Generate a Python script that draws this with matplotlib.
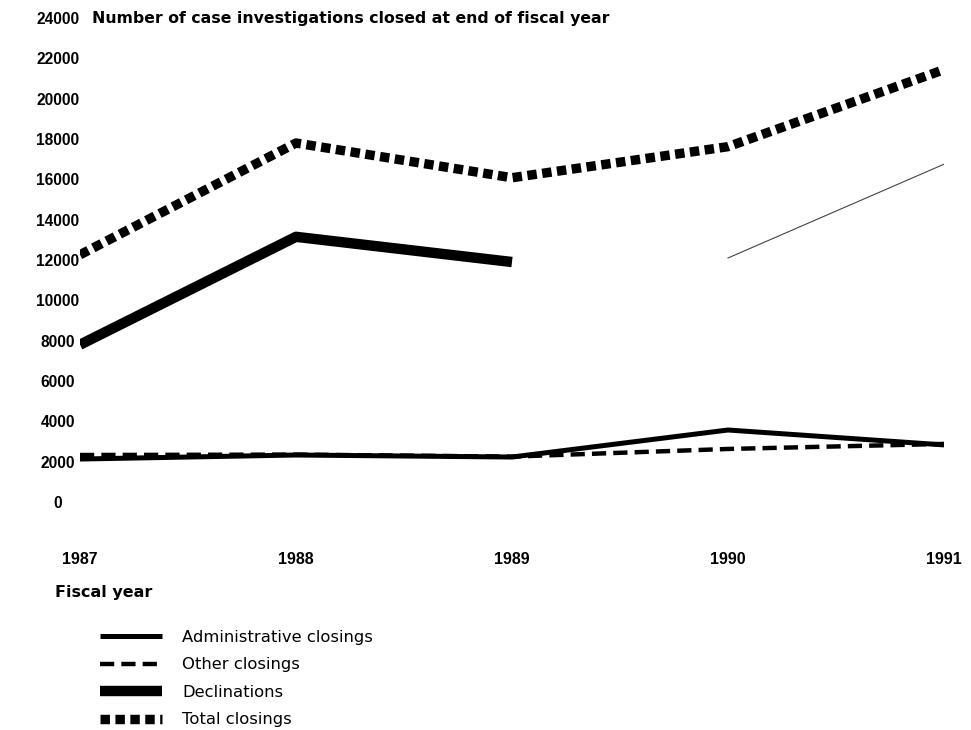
import matplotlib
matplotlib.use("Agg")
import matplotlib.pyplot as plt
from matplotlib.lines import Line2D

years = [1987, 1988, 1989, 1990, 1991]
administrative = [2130, 2330, 2230, 3570, 2830]
other = [2330, 2350, 2250, 2630, 2880]
declinations = [7800, 13150, 11900, 12100, 16750]
total = [12260, 17800, 16080, 17620, 21440]
yticks = list(range(0, 24001, 2000))
title = "Number of case investigations closed at end of fiscal year"
xlabel = "Fiscal year"
labels = ["Administrative closings", "Other closings", "Declinations", "Total closings"]

plt.rcParams['font.family'] = ['Liberation Sans', 'DejaVu Sans']
WIDE = ['DejaVu Sans']

W, H = 971, 730
fig = plt.figure(figsize=(W / 100, H / 100), dpi=100)
left_px, right_px, top_px, bot_px = 80, 944, 18, 502
ax = fig.add_axes([left_px / W, 1 - bot_px / H, (right_px - left_px) / W, (bot_px - top_px) / H])
ax.set_xlim(1987, 1991)
ax.set_ylim(0, 24000)
for s in ax.spines.values():
    s.set_visible(False)

ax.plot(years, administrative, color='black', lw=3.6, solid_capstyle='butt', zorder=3)
ax.plot(years, other, color='black', lw=3.2, dashes=(3.2, 1.6), zorder=3)
ax.plot(years[:3], declinations[:3], color='black', lw=7.5, solid_capstyle='butt', zorder=3)
ax.plot(years[3:], declinations[3:], color='#444444', lw=0.8, zorder=3)
ax.plot(years, total, color='black', lw=6.8, dashes=(1.0, 0.58), dash_capstyle='butt', zorder=4)

ax.set_yticks(yticks)
ax.set_yticklabels([str(v) for v in yticks], fontweight='bold', fontsize=11.2, ha='center')
ax.set_xticks(years)
ax.set_xticklabels([str(y) for y in years], fontweight='bold', fontsize=11.5)
ax.tick_params(axis='y', length=0, pad=16)
ax.tick_params(axis='x', length=0, pad=36)

fig.text(92 / W, 1 - 18 / H, title, fontweight='bold', fontsize=11.3, ha='left', va='center',
         family=WIDE)
fig.text(55 / W, 1 - 592 / H, xlabel, fontweight='bold', fontsize=11.5, ha='left', va='center',
         family=WIDE)

handles = [
    Line2D([], [], color='black', lw=3.6, solid_capstyle='butt'),
    Line2D([], [], color='black', lw=3.2, dashes=(3.2, 1.6)),
    Line2D([], [], color='black', lw=7.5, solid_capstyle='butt'),
    Line2D([], [], color='black', lw=6.8, dashes=(1.0, 0.58), dash_capstyle='butt'),
]
fs = 11.8
fig.legend(handles, labels, loc='upper left', bbox_to_anchor=(100 / W, 1 - 630 / H),
           frameon=False, prop={'family': WIDE, 'size': fs},
           handlelength=62 / (fs * 100 / 72), handletextpad=20 / (fs * 100 / 72),
           labelspacing=0.76, borderaxespad=0, borderpad=0)

fig.savefig("out.png", dpi=100)
